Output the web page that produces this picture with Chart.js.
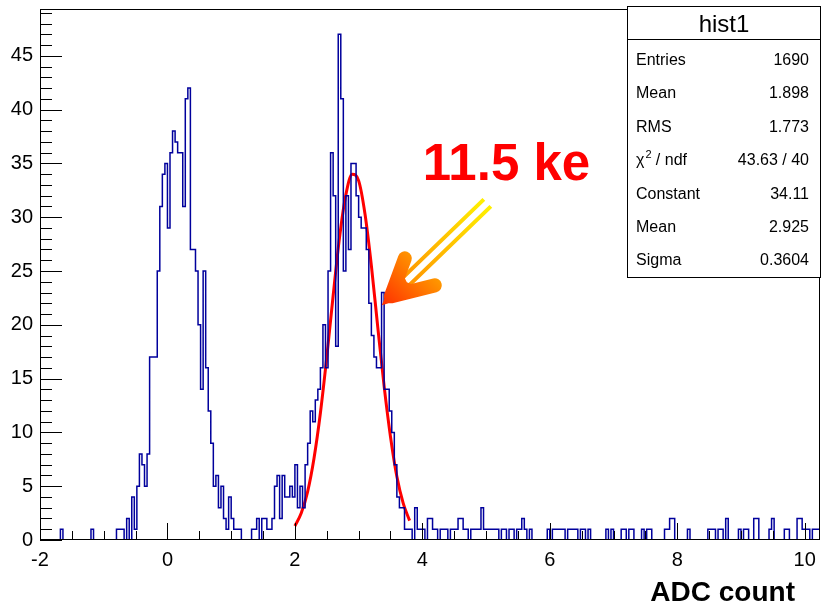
<!DOCTYPE html>
<html>
<head>
<title>hist1 - ADC count</title>
<script src="https://cdn.jsdelivr.net/npm/chart.js"></script>
<style>body{margin:0;background:#fff}</style>
</head>
<body>
<canvas id="histChart" width="821" height="605"></canvas>
<script>
// histogram binning
const xStart = -2;
const binWidth = 0.04;
// counts per bin, 10 bins per row, starting at x = -2
const counts = [
  0,0,0,0,0,0,0,0,0,1,
  0,0,0,0,0,0,0,0,0,0,
  0,1,0,0,0,0,0,0,0,0,
  0,1,1,1,0,2,0,4,1,5,
  8,7,5,8,17,17,17,25,31,34,
  35,29,36,38,37,36,36,31,41,42,
  27,27,25,20,14,25,16,12,9,5,
  6,3,5,2,1,4,2,1,1,1,
  0,0,0,0,1,1,2,0,2,2,
  1,1,2,5,6,2,6,4,4,5,
  4,7,3,5,3,7,9,12,11,13,
  14,16,20,16,25,36,32,18,47,41,
  25,32,27,35,35,32,30,29,29,27,
  22,19,17,16,16,23,14,14,12,10,
  7,4,3,3,1,1,1,0,3,1,
  1,1,0,2,2,1,1,0,1,1,
  1,0,1,1,1,2,2,1,1,0,
  1,1,1,1,3,1,1,1,1,1,
  1,0,1,1,0,1,1,0,1,1,
  2,1,0,1,0,0,0,0,0,0,
  1,0,1,1,1,1,1,0,1,1,
  1,1,0,1,1,0,1,0,0,0,
  0,0,0,1,0,1,0,0,0,1,
  1,0,1,1,0,0,0,1,0,1,
  1,0,0,0,0,0,1,1,2,2,
  0,0,0,0,0,1,0,0,0,0,
  0,0,0,1,1,1,0,1,1,0,
  2,0,0,0,0,1,0,1,1,0,
  0,2,2,0,0,0,0,1,2,0,
  0,0,0,1,1,0,0,0,2,2,
  1,1,1,0,1,1
];

// gaussian fit curve
const fitX = [2.0, 2.1, 2.2, 2.3, 2.4, 2.5, 2.6, 2.7, 2.8, 2.9, 3.0, 3.1, 3.2, 3.3, 3.4, 3.5, 3.6, 3.7, 3.8];
const fitY = [1.3, 2.5, 4.5, 7.6, 11.8, 17.0, 22.7, 28.1, 32.1, 34.0, 33.4, 30.3, 25.5, 19.8, 14.3, 9.6, 5.9, 3.4, 1.8];

const xTicks = [-2, 0, 2, 4, 6, 8, 10];
const yTicks = [0, 5, 10, 15, 20, 25, 30, 35, 40, 45];

const statsTitle = 'hist1';
const statsLabels = ['Entries', 'Mean', 'RMS', 'chi2/ndf', 'Constant', 'Mean', 'Sigma'];
const statsValues = ['1690', '1.898', '1.773', '43.63 / 40', '34.11', '2.925', '0.3604'];

const noteText = '11.5 ke';
const notePos = {x: 5.32, y: 33.5};
const arrowTip = {x: 3.38, y: 21.9};

const FONT = "'Liberation Sans', Arial, Helvetica, sans-serif";

const histPoints = counts.map((c, i) => ({x: xStart + i * binWidth, y: c}));
histPoints.push({x: xStart + counts.length * binWidth, y: counts[counts.length - 1]});
const fitPoints = fitX.map((v, i) => ({x: v, y: fitY[i]}));

const rootStyle = {
  id: 'rootStyle',
  afterDatasetsDraw(chart) {
    const {ctx, chartArea: a, scales: {x, y}} = chart;
    ctx.save();
    // frame
    ctx.strokeStyle = '#000';
    ctx.lineWidth = 1;
    ctx.strokeRect(a.left + 0.5, a.top + 0.5, a.right - a.left - 1, a.bottom - a.top - 1);
    // inward tick marks
    ctx.beginPath();
    for (let v = 0; v <= 49; v++) {
      const py = Math.round(y.getPixelForValue(v)) + 0.5;
      const len = v % 5 === 0 ? 22 : 12;
      ctx.moveTo(a.left, py);
      ctx.lineTo(a.left + len, py);
    }
    for (let k = 0; k <= 24; k++) {
      const px = Math.round(x.getPixelForValue(-2 + k * 0.5)) + 0.5;
      const len = k % 4 === 0 ? 17 : 9;
      ctx.moveTo(px, a.bottom);
      ctx.lineTo(px, a.bottom - len);
    }
    ctx.stroke();

    // stats box
    const bx = 627.5, by = 6.5, bw = 193, bh = 271;
    ctx.fillStyle = '#fff';
    ctx.fillRect(bx, by, bw, bh);
    ctx.strokeRect(bx, by, bw, bh);
    ctx.beginPath();
    ctx.moveTo(bx, 39.5);
    ctx.lineTo(bx + bw, 39.5);
    ctx.stroke();
    ctx.fillStyle = '#000';
    ctx.textAlign = 'center';
    ctx.textBaseline = 'alphabetic';
    ctx.font = '24px ' + FONT;
    ctx.fillText(statsTitle, bx + bw / 2, 32);
    ctx.font = '16px ' + FONT;
    statsLabels.forEach((lab, i) => {
      const ty = 65 + i * 33.4;
      ctx.textAlign = 'left';
      if (lab === 'chi2/ndf') {
        ctx.fillText('\u03C7', 636, ty);
        const w = ctx.measureText('\u03C7').width;
        ctx.font = '11px ' + FONT;
        ctx.fillText('2', 636 + w + 1, ty - 7);
        ctx.font = '16px ' + FONT;
        ctx.fillText(' / ndf', 636 + w + 7, ty);
      } else {
        ctx.fillText(lab, 636, ty);
      }
      ctx.textAlign = 'right';
      ctx.fillText(statsValues[i], 809, ty);
    });

    // axis title
    ctx.font = 'bold 28px ' + FONT;
    ctx.textAlign = 'right';
    ctx.fillText('ADC count', 795, 601);

    // annotation text
    ctx.font = 'bold 51px ' + FONT;
    ctx.fillStyle = '#ff0000';
    ctx.textAlign = 'center';
    ctx.fillText(noteText, x.getPixelForValue(notePos.x), y.getPixelForValue(notePos.y));

    // arrow
    const tx = x.getPixelForValue(arrowTip.x), ty = y.getPixelForValue(arrowTip.y);
    const shaft = ctx.createLinearGradient(tx + 100, ty - 100, tx + 15, ty - 15);
    shaft.addColorStop(0, '#ffee00');
    shaft.addColorStop(1, '#ff8a00');
    ctx.strokeStyle = shaft;
    ctx.lineWidth = 4;
    ctx.lineCap = 'butt';
    ctx.beginPath();
    ctx.moveTo(tx + 14, ty - 21);
    ctx.lineTo(tx + 101, ty - 105);
    ctx.moveTo(tx + 21, ty - 14);
    ctx.lineTo(tx + 108, ty - 98);
    ctx.stroke();
    const head = ctx.createLinearGradient(tx + 45, ty - 45, tx, ty);
    head.addColorStop(0, '#ffa400');
    head.addColorStop(1, '#ff3000');
    ctx.strokeStyle = head;
    ctx.fillStyle = head;
    ctx.lineWidth = 14;
    ctx.lineCap = 'round';
    ctx.lineJoin = 'round';
    ctx.beginPath();
    ctx.moveTo(tx + 22, ty - 46);
    ctx.lineTo(tx + 8, ty - 8);
    ctx.lineTo(tx + 52, ty - 19);
    ctx.stroke();
    ctx.beginPath();
    ctx.moveTo(tx - 1, ty + 1);
    ctx.lineTo(tx + 15, ty - 40);
    ctx.lineTo(tx + 24, ty - 22);
    ctx.lineTo(tx + 46, ty - 13);
    ctx.closePath();
    ctx.fill();
    ctx.restore();
  }
};

new Chart(document.getElementById('histChart'), {
  type: 'line',
  data: {
    datasets: [{
      label: 'hist1',
      data: histPoints,
      stepped: 'after',
      borderColor: '#00009c',
      borderWidth: 1.5,
      pointRadius: 0,
      fill: false
    }, {
      label: 'fit',
      data: fitPoints,
      borderColor: '#ff0000',
      borderWidth: 3,
      pointRadius: 0,
      cubicInterpolationMode: 'monotone',
      fill: false
    }]
  },
  options: {
    responsive: false,
    animation: false,
    layout: {padding: {top: 9, right: 1, left: 0, bottom: 0}},
    plugins: {legend: {display: false}, tooltip: {enabled: false}},
    scales: {
      x: {
        type: 'linear',
        min: -2,
        max: 10.24,
        afterBuildTicks: s => { s.ticks = xTicks.map(v => ({value: v})); },
        afterFit: s => { s.height = 65; s.paddingLeft = 0; s.paddingRight = 0; },
        grid: {display: false, drawTicks: false},
        border: {display: false},
        ticks: {color: '#000', font: {family: FONT, size: 20}, padding: 8, maxRotation: 0, autoSkip: false}
      },
      y: {
        min: 0,
        max: 49.35,
        afterBuildTicks: s => { s.ticks = yTicks.map(v => ({value: v})); },
        afterFit: s => { s.width = 40; s.paddingTop = 0; s.paddingBottom = 0; },
        grid: {display: false, drawTicks: false},
        border: {display: false},
        ticks: {color: '#000', font: {family: FONT, size: 20}, padding: 7}
      }
    }
  },
  plugins: [rootStyle]
});
</script>
</body>
</html>
